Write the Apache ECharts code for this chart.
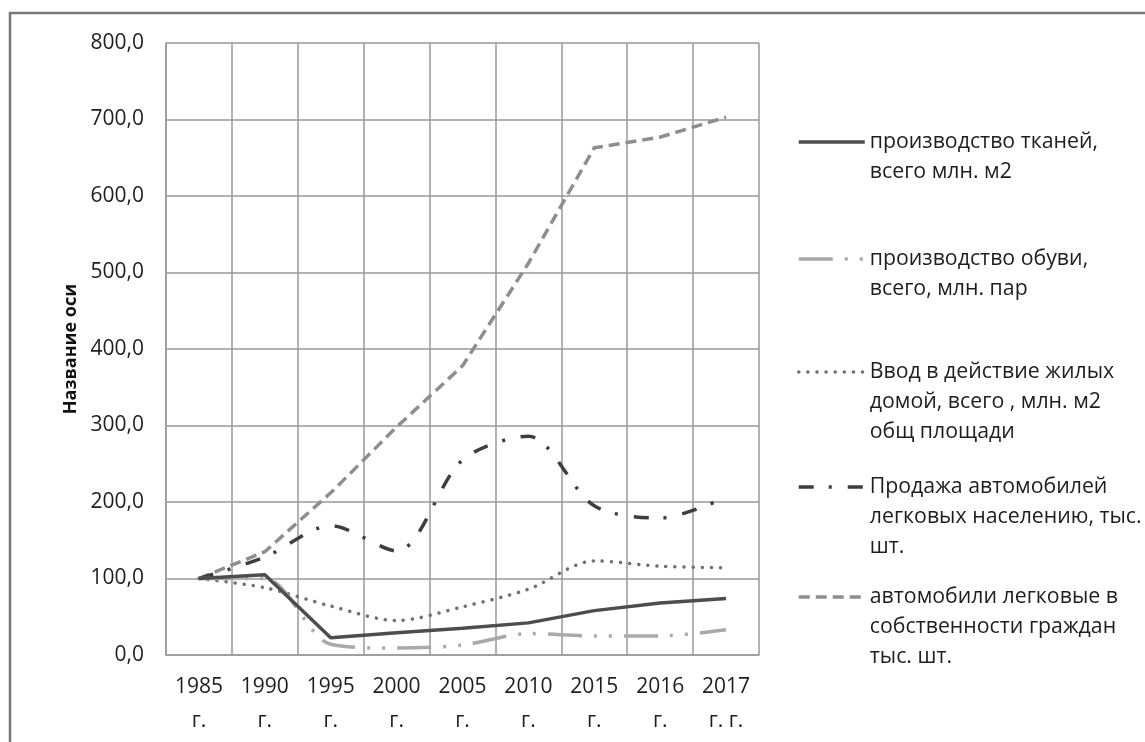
<!DOCTYPE html>
<html>
<head>
<meta charset="utf-8">
<script src="https://cdn.jsdelivr.net/npm/echarts@6/dist/echarts.min.js"></script>
<style>
html,body{margin:0;padding:0;background:#fff;}
#chart{width:1145px;height:742px;}
</style>
</head>
<body>
<div id="chart"></div>
<script>
// ---- data ----
var categories = ['1985\nг.', '1990\nг.', '1995\nг.', '2000\nг.', '2005\nг.', '2010\nг.', '2015\nг.', '2016\nг.', '2017\nг. г.'];
var tkani     = [100, 105, 22.5, 29, 35, 42, 58, 68, 74];
var obuv      = [100, 100, 14, 9, 13, 28, 25, 25, 33];
var zhilye    = [100, 88, 64, 45, 63, 86, 123, 116, 114];
var prodazha  = [100, 128, 169, 136, 255, 286, 195, 179, 206];
var avtomobili= [100, 135, 212, 298, 378, 512, 663, 677, 703];
var yTicks = [0, 100, 200, 300, 400, 500, 600, 700, 800];
var names = [
  'производство тканей,\nвсего млн. м2',
  'производство обуви,\nвсего, млн. пар',
  'Ввод в действие жилых\nдомой, всего , млн. м2\nобщ площади',
  'Продажа автомобилей\nлегковых населению, тыс.\nшт.',
  'автомобили легковые в\nсобственности граждан\nтыс. шт.'
];
var yAxisTitle = 'Название оси';

// ---- styles ----
var FONT = 'Open Sans';
var TXT = '#1e1e1e';
var styles = [
  {color:'#4d4d4d', width:3.5, type:'solid', cap:'butt', smooth:false},
  {color:'#a9a9a9', width:3.5, type:[34,12,3,12,3,12], cap:'butt', smooth:0.3},
  {color:'#707070', width:3.5, type:[0.1,9], cap:'round', smooth:0.3},
  {color:'#3e3e3e', width:3.5, type:[15,15,3,16], cap:'butt', smooth:0.3},
  {color:'#8e8e8e', width:3.5, type:[11,6], cap:'butt', smooth:false}
];
var seriesData = [tkani, obuv, zhilye, prodazha, avtomobili];
var iconCenters = [142, 259, 372, 487, 597];
var LH = 30;

var series = seriesData.map(function(d, i){
  var s = styles[i];
  return {
    name: names[i], type:'line', data: d, symbol:'none', smooth: s.smooth,
    lineStyle:{color:s.color, width:s.width, type:s.type, cap:s.cap},
    itemStyle:{color:s.color},
    z: 10 - i
  };
});

var legends = names.map(function(n, i){
  var lines = n.split('\n').length;
  var pre = new Array(lines).join('\n'); // lines-1 leading blank lines
  return {
    orient:'vertical', left: 797, top: iconCenters[i] - (2*lines-1)*LH/2, padding: 0,
    itemWidth: 66, itemHeight: 14, selectedMode:false,
    lineStyle:{width: styles[i].width},
    itemStyle:{opacity:0},
    formatter: function(name){ return pre + name; },
    textStyle:{fontFamily:FONT, fontSize:21.3, color:TXT, lineHeight:LH},
    data:[n]
  };
});

var chart = echarts.init(document.getElementById('chart'), null, {renderer:'canvas'});
chart.setOption({
  animation:false,
  backgroundColor:'#fff',
  graphic:[{type:'rect', shape:{x:10, y:13, width:1300, height:900},
    style:{fill:null, stroke:'#7a7a7a', lineWidth:2.5}, silent:true}],
  grid:{left:166, right:386, top:43, bottom:87, containLabel:false},
  legend: legends,
  xAxis:{
    type:'category', data:categories, boundaryGap:true,
    axisLine:{show:true, lineStyle:{color:'#999', width:1.5}},
    axisTick:{show:false},
    splitLine:{show:true, lineStyle:{color:'#999', width:1.5}},
    axisLabel:{fontFamily:FONT, fontSize:21, color:TXT, lineHeight:34, margin:15, interval:0}
  },
  yAxis:{
    type:'value', min:yTicks[0], max:yTicks[yTicks.length-1], interval:100,
    name: yAxisTitle, nameLocation:'middle', nameGap:86, nameRotate:90,
    nameTextStyle:{fontFamily:FONT, fontSize:18, fontWeight:'bold', color:'#111'},
    axisLine:{show:true, lineStyle:{color:'#999', width:1.5}},
    axisTick:{show:false},
    splitLine:{show:true, lineStyle:{color:'#999', width:1.5}},
    axisLabel:{fontFamily:FONT, fontSize:21, color:TXT, margin:22,
      formatter:function(v){return v.toFixed(1).replace('.', ',');}}
  },
  series: series
});
</script>
</body>
</html>
